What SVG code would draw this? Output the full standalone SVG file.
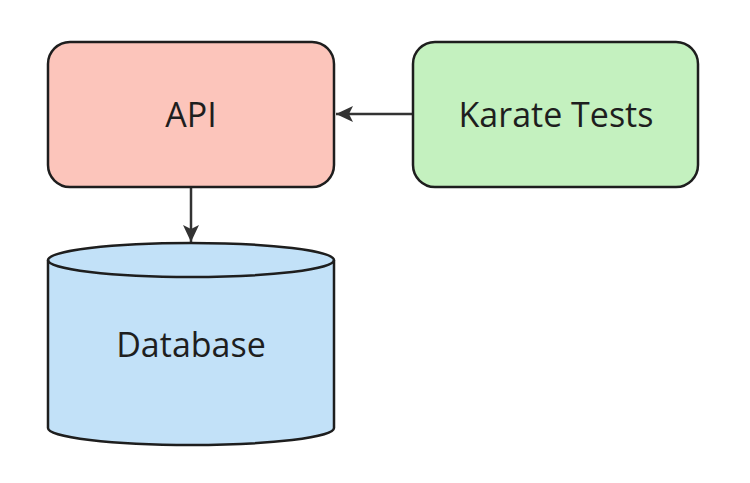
<svg xmlns="http://www.w3.org/2000/svg" width="750" height="483" viewBox="0 0 750 483">
<style>
.node{stroke:#1e1e1e;stroke-width:2.5}
.lbl{font-family:"Open Sans","Noto Sans",sans-serif;font-size:34px;fill:#1e1e1e;text-anchor:middle}
.edge{stroke:#333;stroke-width:2.5;fill:none}
</style>
<defs>
<marker id="ah" viewBox="0 0 18 18" refX="17" refY="9" markerWidth="18" markerHeight="18" markerUnits="userSpaceOnUse" orient="auto">
<path d="M0,1 L17,9 L0,17 L4,9 Z" fill="#333"/>
</marker>
</defs>
<rect width="750" height="483" fill="#fff"/>
<g id="connectors">
<line class="edge" x1="413" y1="114" x2="336" y2="114" marker-end="url(#ah)"/>
<line class="edge" x1="191" y1="187" x2="191" y2="242" marker-end="url(#ah)"/>
</g>
<g id="api">
<rect class="node" x="48" y="42" width="286" height="145" rx="22" fill="#fcc5bb"/>
<text class="lbl" x="191" y="127">API</text>
</g>
<g id="karate">
<rect class="node" x="413" y="42" width="285" height="145" rx="22" fill="#c4f1bf"/>
<text class="lbl" x="556" y="127">Karate Tests</text>
</g>
<g id="database">
<path class="node" d="M48,260 L48,428 A143,17 0 0 0 334,428 L334,260 A143,17 0 0 0 48,260 Z" fill="#c2e1f8"/>
<path class="node" d="M48,260 A143,17 0 0 0 334,260" fill="none"/>
<text class="lbl" x="191" y="357">Database</text>
</g>
</svg>
